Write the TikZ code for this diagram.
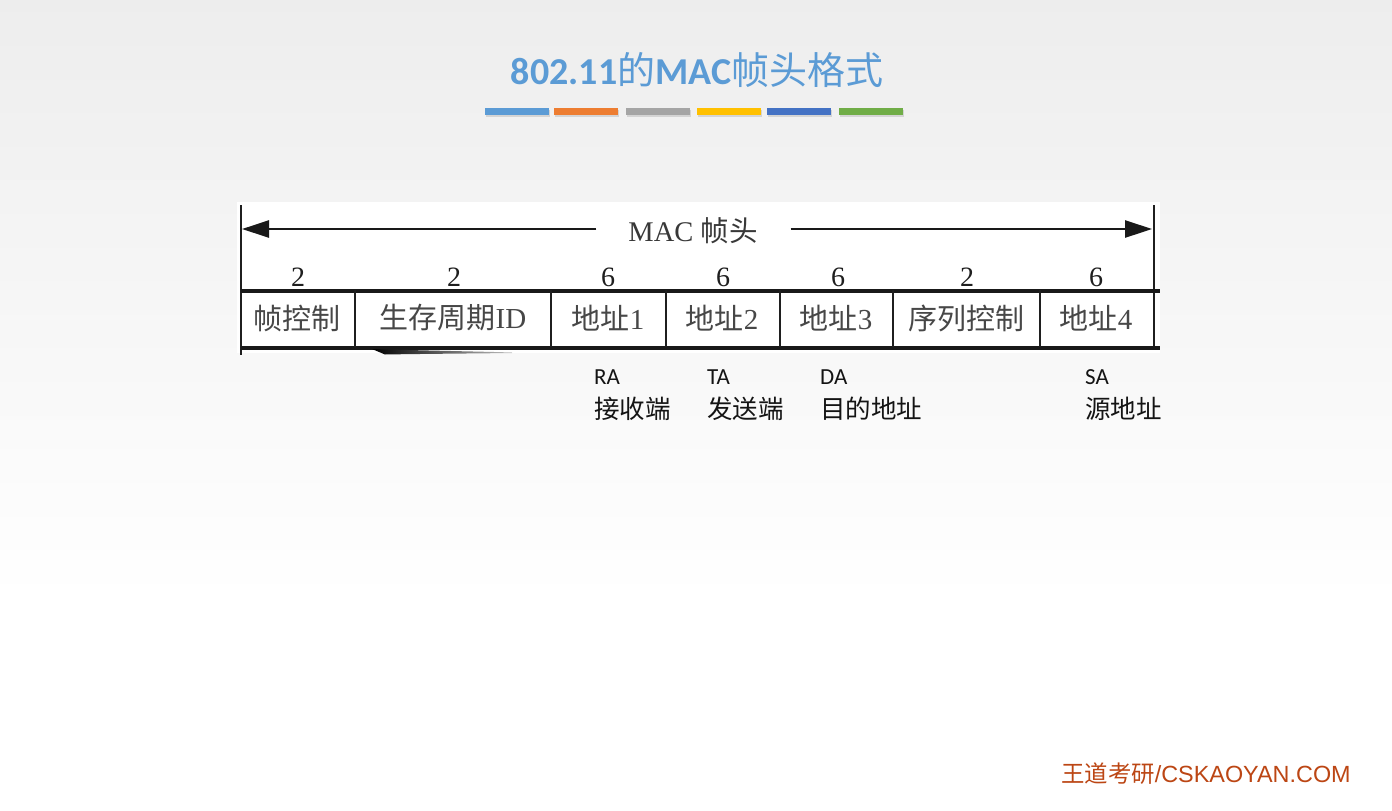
\documentclass[tikz,border=0pt]{standalone}
\usepackage{fontspec}
\setmainfont{Liberation Serif}
\newfontfamily\cjk{Noto Sans CJK SC}
\newfontfamily\calfont{Carlito}
\newfontfamily\lsans{Liberation Sans}
\usetikzlibrary{shadows,arrows.meta}
\definecolor{titleblue}{RGB}{91,155,213}
\definecolor{barA}{RGB}{91,155,213}
\definecolor{barB}{RGB}{237,125,49}
\definecolor{barC}{RGB}{165,165,165}
\definecolor{barD}{RGB}{255,192,0}
\definecolor{barE}{RGB}{68,114,196}
\definecolor{barF}{RGB}{112,173,71}
\definecolor{wmcolor}{RGB}{188,70,20}
\begin{document}
\begin{tikzpicture}[x=1pt,y=-1pt,
  celltext/.style={inner sep=0, text=black!72, font=\fontsize{29}{31}\selectfont},
  numtext/.style={inner sep=0, text=black!88, font=\fontsize{28}{30}\selectfont},
  lbl/.style={anchor=base west, inner sep=0, text=black!92},
  lat/.style={font=\calfont\fontsize{23}{25}\selectfont},
  han/.style={font=\cjk\fontsize{25.5}{27}\selectfont},
  thickrule/.style={line width=4pt, black!90},
  vrule/.style={line width=2.6pt, black!88},
  arr/.style={line width=2.8pt, black!90, -{Triangle[length=27pt,width=17pt]}},
  bar/.style={drop shadow={opacity=0.25, shadow xshift=1pt, shadow yshift=-2pt}}
]
\useasboundingbox (0,0) rectangle (1392,811);
\shade[top color=black!7, bottom color=white] (0,0) rectangle (1392,600);
\fill[white] (0,600) rectangle (1392,811);

% title
\node[text=titleblue, font=\fontsize{38}{40}\selectfont] (title) at (697,70)
  {{\calfont\bfseries 802.11}{\cjk 的}{\calfont\bfseries MAC}{\cjk 帧头格式}};

% colour bars
\foreach \x/\c in {485/barA,554/barB,626/barC,697/barD,767/barE,839/barF}
  \fill[\c, bar] (\x,108) rectangle ++(64,7);

% image panel
\fill[white] (237,202) rectangle (1160,353);

% header label and arrows
\node[inner sep=0, text=black!78, font=\fontsize{28.5}{30}\selectfont] (hdr) at (693,231) {MAC {\cjk 帧头}};
\coordinate (L) at (242,229);
\coordinate (R) at (1152,229);
\draw[arr] ([xshift=-32pt]hdr.west |- L) -- (L);
\draw[arr] ([xshift=33pt]hdr.east |- R) -- (R);

% frame lines
\draw[vrule] (241,205) -- (241,355);
\draw[vrule] (1154,205) -- (1154,349);
\draw[thickrule] (241,290.5) -- (1160,290.5);
\draw[thickrule] (241,347.5) -- (1160,347.5);
\foreach \x in {355,551,666,780,893,1040}
  \draw[vrule] (\x,290) -- (\x,347);

% swoosh artefact
\shade[left color=black, right color=black!25]
  (372,349) .. controls (420,350.5) and (480,351.5) .. (512,352.5)
  -- (512,353) .. controls (470,353.5) and (410,354) .. (385,354.5) -- cycle;

% sizes
\node[numtext] (n1) at (298,277) {2};
\node[numtext] (n2) at (454,277) {2};
\node[numtext] (n3) at (608,277) {6};
\node[numtext] (n4) at (723,277) {6};
\node[numtext] (n5) at (838,277) {6};
\node[numtext] (n6) at (967,277) {2};
\node[numtext] (n7) at (1096,277) {6};

% fields
\node[celltext] (f1) at (297,318) {\cjk 帧控制};
\node[celltext] (f2) at (453,318) {{\cjk 生存周期}ID};
\node[celltext] (f3) at (608,318) {{\cjk 地址}1};
\node[celltext] (f4) at (722,318) {{\cjk 地址}2};
\node[celltext] (f5) at (836,318) {{\cjk 地址}3};
\node[celltext] (f6) at (966,318) {\cjk 序列控制};
\node[celltext] (f7) at (1096,318) {{\cjk 地址}4};

% annotations
\node[lbl, lat] (ra) at (594,384) {RA};
\node[lbl, han] (rad) at (594,418) {接收端};
\node[lbl, lat] (ta) at (707,384) {TA};
\node[lbl, han] (tad) at (707,418) {发送端};
\node[lbl, lat] (da) at (820,384) {DA};
\node[lbl, han] (dad) at (820,418) {目的地址};
\node[lbl, lat] (sa) at (1085,384) {SA};
\node[lbl, han] (sad) at (1085,418) {源地址};

% watermark
\node[anchor=base west, inner sep=0, text=wmcolor, font=\fontsize{23.4}{25}\selectfont] (wm) at (1061,782)
  {{\cjk 王道考研}{\lsans /CSKAOYAN.COM}};
\end{tikzpicture}
\end{document}
